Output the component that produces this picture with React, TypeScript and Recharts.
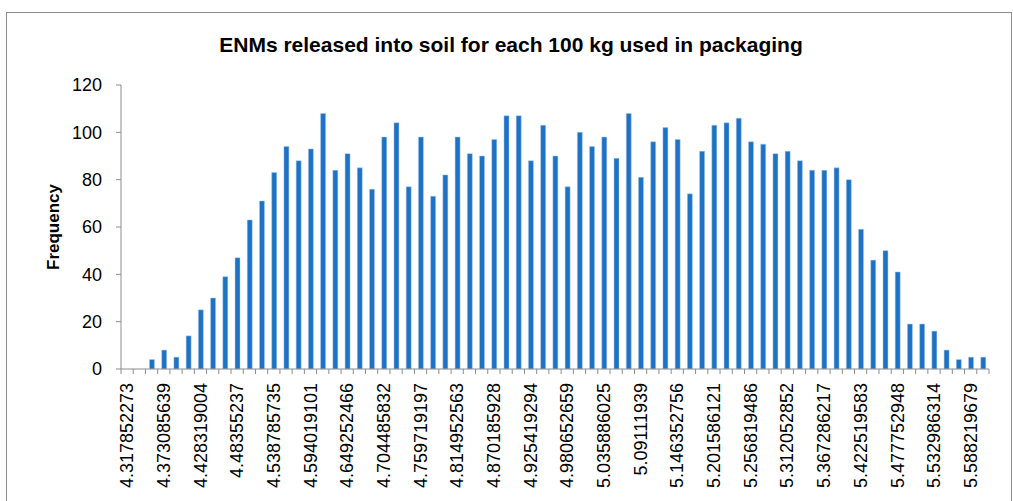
import React from 'react';
import { BarChart, Bar, XAxis, YAxis, Label } from 'recharts';

// bin start values shown on the axis (every third bin is labelled)
const binLabels = [
  '4.317852273', '4.373085639', '4.428319004', '4.48355237', '4.538785735', '4.594019101',
  '4.649252466', '4.704485832', '4.759719197', '4.814952563', '4.870185928', '4.925419294',
  '4.980652659', '5.035886025', '5.09111939', '5.146352756', '5.201586121', '5.256819486',
  '5.312052852', '5.367286217', '5.422519583', '5.477752948', '5.532986314', '5.588219679',
];

// frequency per bin (71 bins)
const frequency = [
  0, 0, 4, 8, 5, 14, 25, 30, 39, 47, 63, 71, 83, 94, 88, 93, 108, 84,
  91, 85, 76, 98, 104, 77, 98, 73, 82, 98, 91, 90, 97, 107, 107, 88, 103, 90,
  77, 100, 94, 98, 89, 108, 81, 96, 102, 97, 74, 92, 103, 104, 106, 96, 95, 91,
  92, 88, 84, 84, 85, 80, 59, 46, 50, 41, 19, 19, 16, 8, 4, 5, 5,
];

const yTicks = [0, 20, 40, 60, 80, 100, 120];

const W = 1013;
const H = 501;
const MARGIN = { top: 85, right: 24, bottom: 0, left: 0 };
const Y_AXIS_W = 121;
const X_AXIS_H = 132;
const PLOT_W = W - MARGIN.left - MARGIN.right - Y_AXIS_W;
const AXIS_Y = H - MARGIN.bottom - X_AXIS_H;

const FONT = '"Liberation Sans", Arial, sans-serif';
const AXIS_COLOR = '#8c8c8c';

const data = frequency.map((freq, idx) => ({ idx, freq }));

const BinTick = (props: any) => {
  const { x, payload } = props;
  const i = payload.value as number;
  const half = PLOT_W / frequency.length / 2;
  const label = i % 3 === 0 ? binLabels[i / 3] : null;
  return (
    <g>
      <line x1={x - half} x2={x - half} y1={AXIS_Y} y2={AXIS_Y + 5} stroke={AXIS_COLOR} />
      {i === frequency.length - 1 && (
        <line x1={x + half} x2={x + half} y1={AXIS_Y} y2={AXIS_Y + 5} stroke={AXIS_COLOR} />
      )}
      {label && (
        <text
          transform={`translate(${x + 6.2},${AXIS_Y + 14}) rotate(-90)`}
          textAnchor="end"
          fontSize={18}
          fontFamily={FONT}
          fill="#000"
        >
          {label}
        </text>
      )}
    </g>
  );
};

const App = () => {
  return (
    <div style={{ position: 'absolute', left: 0, top: 0, width: W, height: H, overflow: 'hidden', background: '#fff' }}>
      <div
        style={{
          position: 'absolute',
          left: 6,
          top: 12,
          width: 1006,
          height: 600,
          border: `1px solid ${AXIS_COLOR}`,
          boxSizing: 'border-box',
        }}
      />
      <div
        style={{
          position: 'absolute',
          left: 0,
          top: 33,
          width: 1022,
          textAlign: 'center',
          fontFamily: FONT,
          fontWeight: 'bold',
          fontSize: 21,
          color: '#000',
        }}
      >
        ENMs released into soil for each 100 kg used in packaging
      </div>
      <div style={{ position: 'absolute', left: 0, top: 0 }}>
        <BarChart width={W} height={H} data={data} margin={MARGIN} barCategoryGap={0}>
          <XAxis
            dataKey="idx"
            type="category"
            interval={0}
            height={X_AXIS_H}
            tickLine={false}
            axisLine={{ stroke: AXIS_COLOR }}
            tick={<BinTick />}
          />
          <YAxis
            width={Y_AXIS_W}
            domain={[0, 120]}
            ticks={yTicks}
            interval={0}
            tickSize={5}
            tickMargin={14}
            tickLine={{ stroke: AXIS_COLOR }}
            axisLine={{ stroke: AXIS_COLOR }}
            tick={{ fill: '#000', fontSize: 18, fontFamily: FONT }}
          >
            <Label
              content={(p: any) => {
                const vb = p.viewBox || { x: 0, y: MARGIN.top, height: AXIS_Y - MARGIN.top };
                const cy = vb.y + vb.height / 2;
                return (
                  <text
                    transform={`translate(${vb.x + 59},${cy}) rotate(-90)`}
                    textAnchor="middle"
                    fontSize={17}
                    fontWeight="bold"
                    fontFamily={FONT}
                    fill="#000"
                  >
                    Frequency
                  </text>
                );
              }}
            />
          </YAxis>
          <Bar
            dataKey="freq"
            fill="#1d72c6"
            stroke="#a9c9ec"
            strokeWidth={0.5}
            barSize={5}
            isAnimationActive={false}
          />
        </BarChart>
      </div>
    </div>
  );
};

export default App;
